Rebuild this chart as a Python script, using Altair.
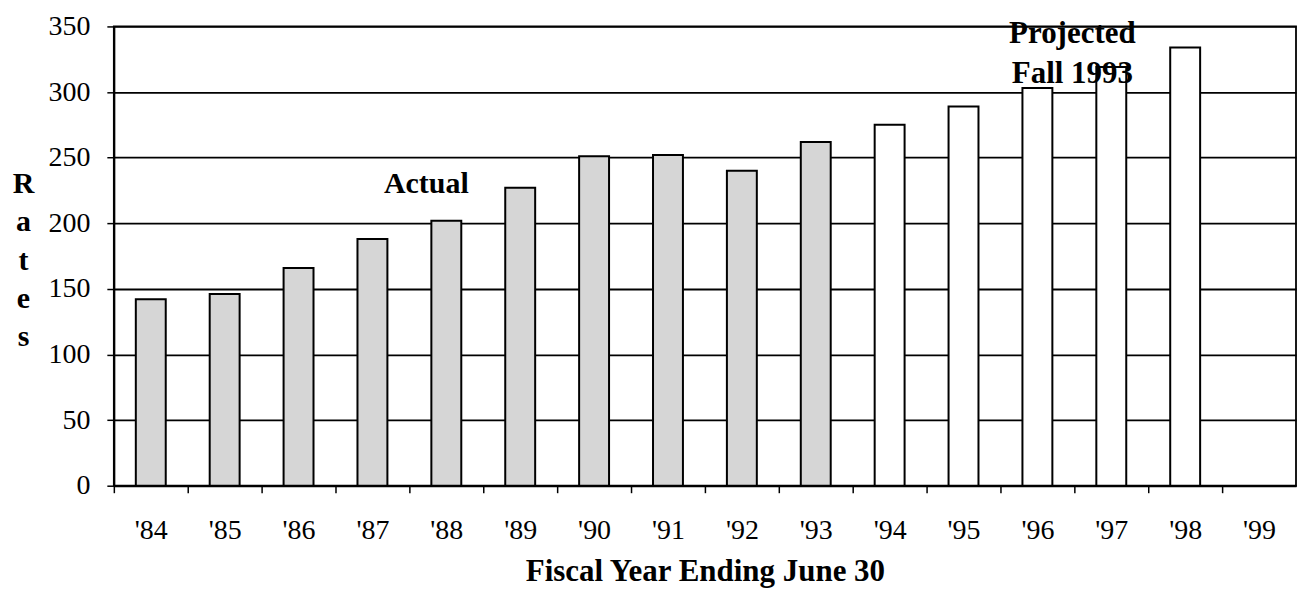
import altair as alt
import pandas as pd

years = ["'84", "'85", "'86", "'87", "'88", "'89", "'90", "'91", "'92", "'93",
         "'94", "'95", "'96", "'97", "'98", "'99"]
rates = [142, 146, 166, 188, 202, 227, 251, 252, 240, 262,
         275, 289, 303, 319, 334, None]
status = ["Actual"] * 10 + ["Projected"] * 6

ann_year = ["'88", "'96"]
ann_rate = [223, 337]
ann_text = ["Actual", "Projected\nFall 1993"]

df = pd.DataFrame({"year": years, "rate": rates, "status": status})
ann = pd.DataFrame({"year": ann_year, "rate": ann_rate, "label": ann_text})

FONT = "Liberation Serif"
W = 1184
STEP = W / len(years)

x = alt.X(
    "year:N",
    sort=years,
    scale=alt.Scale(domain=years, paddingInner=0.595, paddingOuter=0.2975),
    axis=alt.Axis(
        title="Fiscal Year Ending June 30",
        labelAngle=0,
        labelFont=FONT, labelFontSize=28, labelColor="black",
        labelBaseline="alphabetic", labelPadding=46,
        tickOffset=-STEP / 2, labelOffset=STEP / 2,
        tickColor="black", tickSize=7, tickWidth=1.5,
        domainColor="black", domainWidth=2,
        grid=False,
        titleFont=FONT, titleFontSize=31, titleFontWeight="bold", titleColor="black",
        titleBaseline="alphabetic", titleY=95,
    ),
)
y = alt.Y(
    "rate:Q",
    scale=alt.Scale(domain=[0, 350], nice=False),
    axis=alt.Axis(
        values=[0, 50, 100, 150, 200, 250, 300, 350],
        title=["R", "a", "t", "e", "s"],
        titleAngle=0, titleAlign="center", titleBaseline="alphabetic",
        titleX=-91, titleY=166, titleLineHeight=38.5,
        titleFont=FONT, titleFontSize=30, titleFontWeight="bold", titleColor="black",
        labelFont=FONT, labelFontSize=28, labelColor="black", labelPadding=17,
        tickColor="black", tickSize=7, tickWidth=1.5,
        domainColor="black", domainWidth=2,
        gridColor="black", gridWidth=1.8, gridOpacity=1,
    ),
)

bars = alt.Chart(df).mark_bar(stroke="black", strokeWidth=2).encode(
    x=x,
    y=y,
    fill=alt.Fill("status:N", scale=alt.Scale(domain=["Actual", "Projected"],
                                              range=["#d6d6d6", "#ffffff"]),
                  legend=None),
)

actual = alt.Chart(ann.iloc[[0]]).mark_text(
    font=FONT, fontSize=30, fontWeight="bold", color="black",
    baseline="alphabetic", align="center", dx=-20,
).encode(x=alt.X("year:N", sort=years), y=alt.Y("rate:Q"), text="label:N")

projected = alt.Chart(ann.iloc[[1]]).mark_text(
    font=FONT, fontSize=31, fontWeight="bold", color="black",
    baseline="alphabetic", align="center", dx=35, lineBreak="\n", lineHeight=40,
).encode(x=alt.X("year:N", sort=years), y=alt.Y("rate:Q"), text="label:N")

chart = alt.layer(bars, actual, projected).properties(
    width=W, height=460,
    autosize=alt.AutoSizeParams(type="none"),
    padding={"left": 106, "top": 18, "right": 2, "bottom": 104},
    background="white",
).configure_view(stroke="black", strokeWidth=1.8)

chart.save("out.html", embed_options={"renderer": "svg", "actions": False})
